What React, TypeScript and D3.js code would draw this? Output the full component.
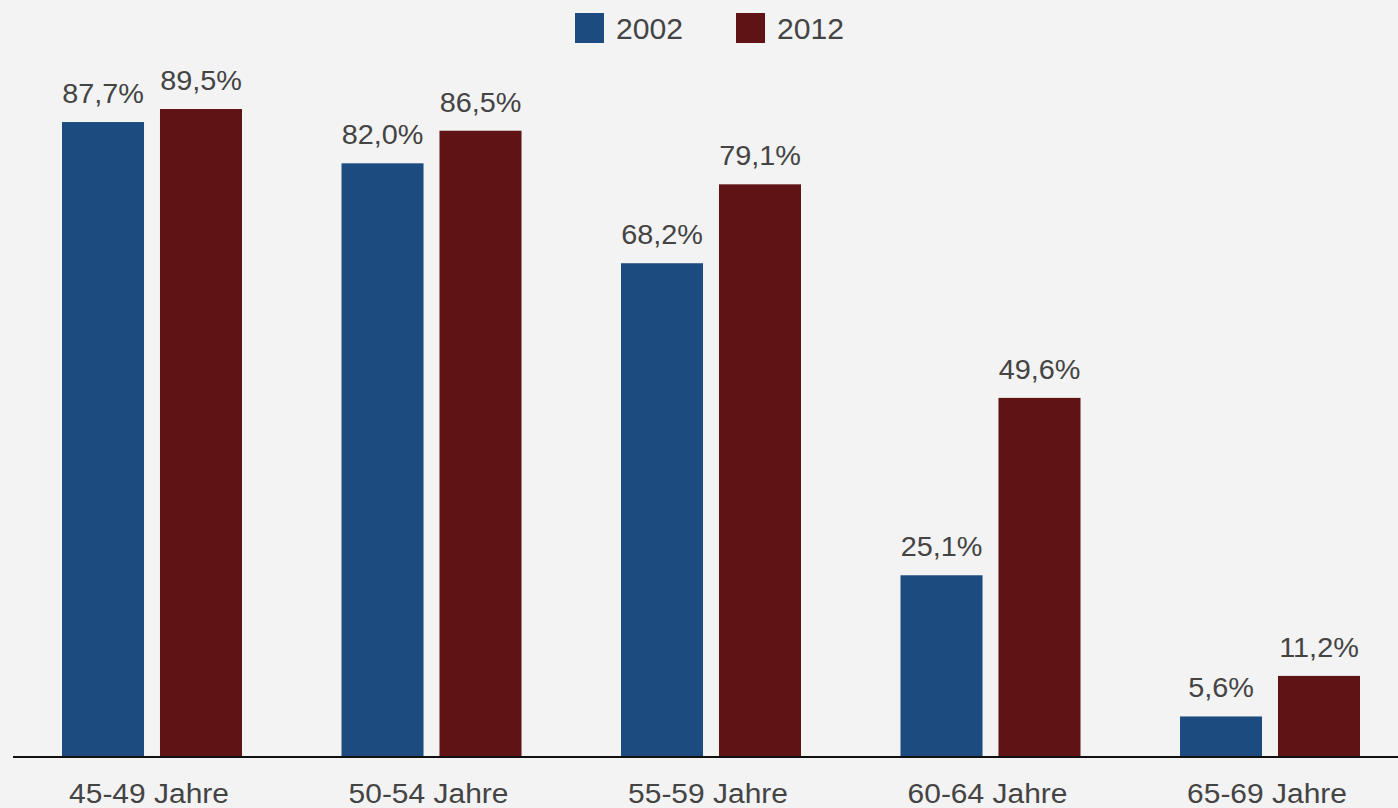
import React from "react";
import * as d3 from "d3";

const categories = ["45-49 Jahre", "50-54 Jahre", "55-59 Jahre", "60-64 Jahre", "65-69 Jahre"];
const seriesNames = ["2002", "2012"];
const values2002 = [87.7, 82.0, 68.2, 25.1, 5.6];
const values2012 = [89.5, 86.5, 79.1, 49.6, 11.2];
const colors = ["#1b4b7f", "#5f1315"];

const W = 1398;
const H = 808;
const FONT = "'Liberation Sans', Arial, Helvetica, sans-serif";

export default function App() {
  const x = d3.scaleBand<string>().domain(categories).range([12.25, 1409.75]).paddingInner(0.356).paddingOuter(0.178);
  const xi = d3.scaleBand<string>().domain(seriesNames).range([0, x.bandwidth()]).paddingInner(0.163);
  const y = d3.scaleLinear().domain([0, 100]).range([757, 33]);
  const series = [values2002, values2012];
  const fmt = (v: number) => v.toFixed(1).replace(".", ",") + "%";

  return (
    <div style={{ position: "absolute", left: 0, top: 0, width: W, height: H, background: "#f3f3f3" }}>
      <svg width={W} height={H} style={{ display: "block", fontFamily: FONT }}>
        <rect x={0} y={0} width={W} height={H} fill="#f3f3f3" />
        {/* legend */}
        {seriesNames.map((s, i) => (
          <g key={s} transform={`translate(${575 + i * 161},13)`}>
            <rect x={0} y={0} width={29} height={30} fill={colors[i]} />
            <text x={41} y={26} fontSize={29} fill="#444" transform="translate(41,0) scale(1.04,1) translate(-41,0)">{s}</text>
          </g>
        ))}
        {/* bars */}
        {categories.map((c, ci) => (
          <g key={c} transform={`translate(${x(c)},0)`}>
            {seriesNames.map((s, si) => {
              const v = series[si][ci];
              const bx = xi(s)!;
              const bw = xi.bandwidth();
              const cx = bx + bw / 2;
              return (
                <g key={s}>
                  <rect x={bx} y={y(v)} width={bw} height={y(0) - y(v)} fill={colors[si]} />
                  <g transform={`translate(${cx},${y(v) - 19}) scale(1.03,1)`}>
                    <text x={0} y={0} textAnchor="middle" fontSize={28} fill="#444">{fmt(v)}</text>
                  </g>
                </g>
              );
            })}
            <g transform={`translate(${x.bandwidth() / 2 - 3},803) scale(1.07,1)`}>
              <text x={0} y={0} textAnchor="middle" fontSize={28} fill="#444">{c}</text>
            </g>
          </g>
        ))}
        <line x1={13} x2={W} y1={y(0)} y2={y(0)} stroke="#111" strokeWidth={2} />
      </svg>
    </div>
  );
}
